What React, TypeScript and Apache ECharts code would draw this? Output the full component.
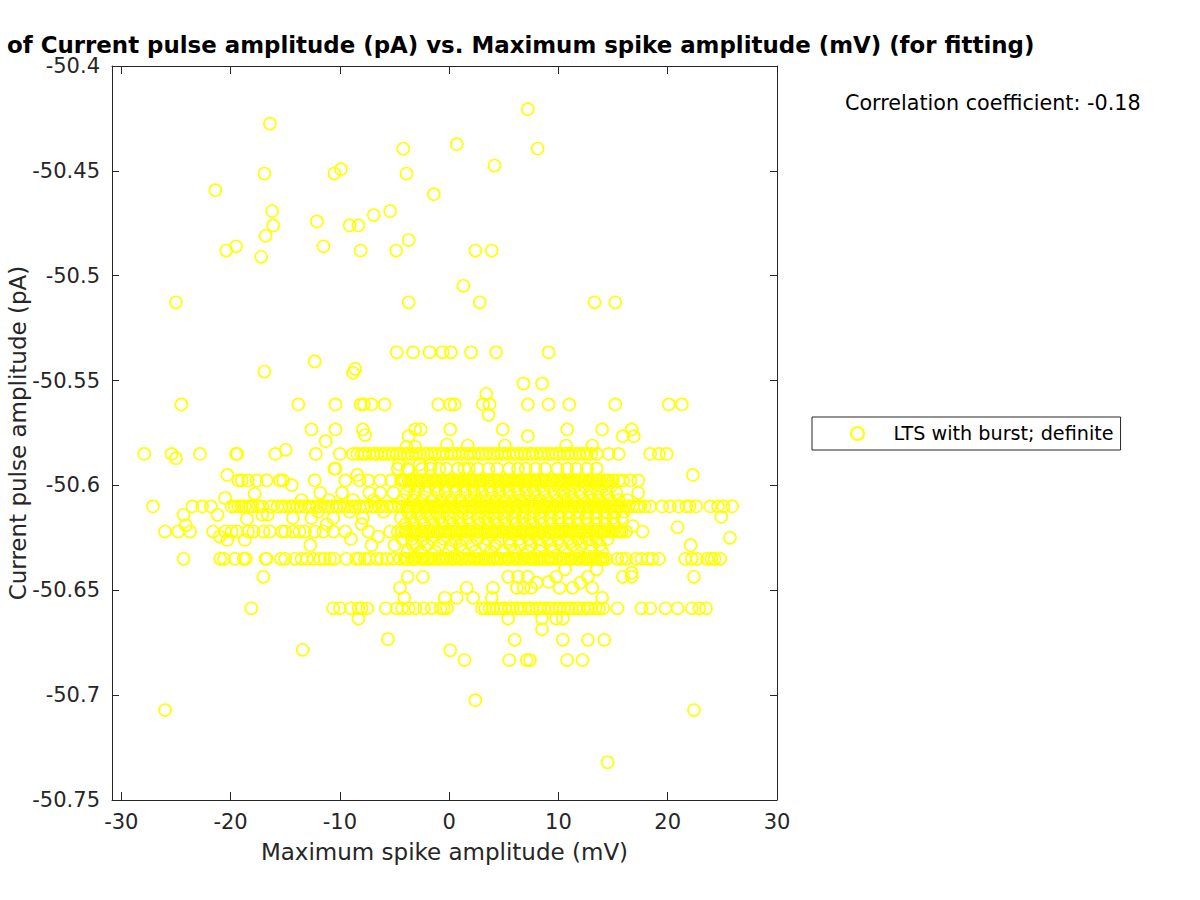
import React, { useEffect, useRef } from "react";
import * as echarts from "echarts";

// ---- Data ----
const seriesName = "LTS with burst; definite";
const titleText = "of Current pulse amplitude (pA) vs. Maximum spike amplitude (mV) (for fitting)";
const corrText = "Correlation coefficient: -0.18";
const xTicks = [-30, -20, -10, 0, 10, 20, 30];
const yTicks = [-50.75, -50.7, -50.65, -50.6, -50.55, -50.5, -50.45, -50.4];

// Row levels (pA) and the x values (mV) of points lying on them
const rowAY = -50.585;
const rowAX = [-27.9, -25.4, -22.8, -19.5, -19.4, -15.9, -12.2, -10.0, -8.8,
  -8.4, -8.0, -7.7, -7.3, -6.9, -6.6, -6.2, -5.9, -5.5, -5.2, -4.8, -4.5, -4.1, -3.8, -3.4, -3.0, -2.7, -2.3, -2.0, -1.6, -1.3, -0.9, -0.6, -0.2,
  0.2, 0.5, 0.9, 1.2, 1.6, 1.9, 2.3, 2.7, 3.0, 3.4, 3.7, 4.1, 4.4, 4.8, 5.1, 5.5, 5.9, 6.2, 6.6, 6.9, 7.3, 7.6, 8.0, 8.4, 8.7, 9.1, 9.4, 9.8,
  10.1, 10.5, 10.9, 11.2, 11.6, 11.9, 12.3, 12.6, 13.0, 13.5, 14.6, 15.5, 18.4, 19.2, 19.9];

const rowBY = -50.5976;
const rowBX = [-19.3, -18.97, -18.4, -17.6, -16.7, -15.5, -15.2, -12.3, -9.5, -8.2, -7.4, -6.3, -5.3,
  -4.4, -4.0, -3.7, -3.3, -3.0, -2.6, -2.2, -1.9, -1.5, -1.2, -0.8, -0.5, -0.1, 0.3, 0.6, 1.0, 1.3, 1.7, 2.0, 2.4, 2.8, 3.1, 3.5, 3.8,
  4.2, 4.5, 4.9, 5.3, 5.6, 6.0, 6.3, 6.7, 7.0, 7.4, 7.8, 8.1, 8.5, 8.8, 9.2, 9.5, 9.9, 10.3, 10.6, 11.0, 11.3, 11.7, 12.0, 12.4, 12.8,
  13.1, 13.5, 13.8, 14.2, 14.6, 15.0, 15.5, 15.9, 16.6, 17.3];
const rowBXCore = [-4.2, -3.5, -2.8, -2.0, -1.3, -0.6, 0.1, 0.8, 1.5, 2.2, 2.9, 3.6, 4.4, 5.1, 5.8, 6.5, 7.2, 7.9, 8.6, 9.4,
  10.1, 10.8, 11.5, 12.2, 12.9, 13.6, 14.4];

const rowCY = -50.61;
const rowCX = [-27.1, -23.5, -22.6, -21.8, -19.9, -19.6, -19.3, -19.0, -18.7, -18.3, -18.0, -17.5, -17.1, -16.3, -15.7, -15.3,
  -15.0, -14.6, -14.3, -13.9, -13.6, -13.2, -12.8, -12.5, -12.1, -11.8, -11.4, -11.1, -10.7, -10.3, -10.0, -9.6, -9.3, -8.9, -8.6,
  -8.2, -7.8, -7.5, -7.1, -6.8, -6.4, -6.1, -5.7, -5.3, -5.0, -4.6, -4.3, -3.9, -3.6, -3.2, -2.8, -2.5, -2.1, -1.8, -1.4, -1.1, -0.7,
  -0.3, 0.0, 0.4, 0.7, 1.1, 1.4, 1.8, 2.2, 2.5, 2.9, 3.2, 3.6, 3.9, 4.3, 4.7, 5.0, 5.4, 5.7, 6.1, 6.4, 6.8, 7.2, 7.5, 7.9, 8.2, 8.6,
  8.9, 9.3, 9.7, 10.0, 10.4, 10.7, 11.1, 11.4, 11.8, 12.2, 12.5, 12.9, 13.2, 13.6, 13.9, 14.3, 14.7, 15.0, 15.4, 15.7, 16.1, 16.4,
  16.8, 17.2, 17.5, 17.9, 18.4, 19.5, 20.2, 21.0, 21.7, 22.0, 22.6, 23.9, 24.6, 25.1, 25.9];
const rowCXCore = [-3.7, -3.0, -2.3, -1.6, -0.9, -0.2, 0.5, 1.2, 2.0, 2.7, 3.4, 4.1, 4.8, 5.5, 6.2, 6.9, 7.7, 8.4, 9.1, 9.8,
  10.5, 11.2, 11.9, 12.7, 13.4, 14.1, 14.8, 15.5];

const rowDY = -50.622;
const rowDX = [-26.0, -24.8, -23.7, -21.6, -20.5, -19.9, -19.4, -18.4, -17.9, -17.0, -16.4, -15.3, -15.0, -14.3, -13.7, -13.2,
  -12.3, -11.5, -10.6, -9.5, -7.4, -5.4,
  -4.7, -4.3, -4.0, -3.6, -3.3, -2.9, -2.5, -2.2, -1.8, -1.5, -1.1, -0.8, -0.4, 0.0, 0.3, 0.7, 1.0, 1.4, 1.7, 2.1, 2.5, 2.8, 3.2,
  3.5, 3.9, 4.2, 4.6, 5.0, 5.3, 5.7, 6.0, 6.4, 6.7, 7.1, 7.5, 7.8, 8.2, 8.5, 8.9, 9.2, 9.6, 10.0, 10.3, 10.7, 11.0, 11.4, 11.7,
  12.1, 12.5, 12.8, 13.2, 13.5, 13.9, 14.2, 14.6, 15.0, 15.4, 15.8, 16.2, 17.7];
const rowDXCore = [-3.9, -3.1, -2.4, -1.7, -1.0, -0.3, 0.5, 1.2, 1.9, 2.6, 3.3, 4.0, 4.8, 5.5, 6.2, 6.9, 7.6, 8.3, 9.1, 9.8,
  10.5, 11.2, 11.9, 12.6, 13.4, 14.1, 14.8, 15.6];

const rowEY = -50.635;
const rowEX = [-24.3, -20.95, -20.6, -19.6, -18.8, -18.6, -16.8, -16.7, -15.4, -15.0, -14.1, -13.5, -13.0, -12.4, -11.8, -11.4,
  -10.9, -10.5, -9.4, -8.5, -8.2, -7.7, -7.3, -6.6, -6.2, -5.7, -5.1,
  -4.5, -4.1, -3.8, -3.4, -3.1, -2.7, -2.3, -2.0, -1.6, -1.3, -0.9, -0.6, -0.2, 0.2, 0.5, 0.9, 1.2, 1.6, 1.9, 2.3, 2.7, 3.0, 3.4,
  3.7, 4.1, 4.4, 4.8, 5.2, 5.5, 5.9, 6.2, 6.6, 6.9, 7.3, 7.7, 8.0, 8.4, 8.7, 9.1, 9.4, 9.8, 10.2, 10.5, 10.9, 11.2, 11.6, 11.9,
  12.3, 12.7, 13.0, 13.4, 13.7, 14.1, 14.4, 15.4, 15.8, 16.2, 17.1, 17.6, 18.2, 18.6, 19.2, 21.6, 22.2, 22.7, 23.6, 24.0, 24.3, 24.8];
const rowEXCore = [-3.9, -3.2, -2.5, -1.8, -1.0, -0.3, 0.4, 1.1, 1.8, 2.5, 3.2, 4.0, 4.7, 5.4, 6.1, 6.8, 7.5, 8.2, 9.0, 9.7,
  10.4, 11.1, 11.8, 12.5, 13.2, 13.9];

const rowFY = -50.6586;
const rowFX = [-18.1, -10.6, -10.0, -9.0, -8.3, -8.0, -7.5, -5.8, -4.8, -4.3, -3.7, -3.1, -2.3, -1.6, -0.8, -0.5, -0.2, 3.0,
  3.3, 3.7, 4.0, 4.4, 4.7, 5.1, 5.5, 5.8, 6.2, 6.5, 6.9, 7.3, 7.6, 8.0, 8.3, 8.7, 9.1, 9.4, 9.8, 10.1, 10.5, 10.9, 11.2, 11.6,
  11.9, 12.3, 12.7, 13.0, 13.4, 13.7, 14.1, 15.4, 17.6, 18.4, 19.8, 20.9, 22.2, 22.9, 23.5];

// In-between bands of the dense core
const band1Y = -50.592;
const band1X = [-10.5, -4.7, -3.8, -2.5, -1.7, -0.9, -0.25, 0.8, 1.4, 1.8, 2.6, 3.6, 4.4, 5.5, 6.3, 7.0, 7.9, 8.8, 9.9, 10.8,
  11.65, 12.6, 13.5];
const band2Y = -50.6035;
const band2X = [-11.8, -9.8, -7.3, -6.3, -5.1, -3.9, -3.1, -2.2, -1.0, -0.3, 0.6, 1.5, 2.3, 3.0, 3.9, 4.6, 5.5, 6.3, 7.1, 7.8,
  8.7, 9.6, 10.4, 11.1, 12.0, 12.9, 13.6, 14.4, 15.3, 17.3];
const band3Y = -50.6155;
const band3X = [-14.3, -12.6, -10.6, -7.9, -4.4, -3.5, -2.6, -1.7, -0.9, 0.0, 0.8, 1.7, 2.6, 3.3, 4.1, 5.0, 5.8, 6.7, 7.4, 8.3,
  9.2, 10.0, 10.9, 11.7, 12.5, 13.4, 14.2, 15.0, 15.8];
const band4Y = -50.6285;
const band4X = [-12.7, -7.1, -5.0, -3.3, -3.0, -2.0, -0.9, 0.2, 1.0, 2.1, 3.3, 4.2, 5.6, 6.5, 7.5, 8.4, 9.3, 10.2, 11.3, 12.1,
  13.0, 13.8, 22.1];
const band5Y = -50.6536;
const band5X = [-4.1, -0.4, 0.7, 2.2, 3.9, 14.0];
const band6Y = -50.6488;
const band6X = [-4.5, 1.6, 4.0, 6.2, 6.8, 7.5, 10.1, 11.3, 13.1];
const band7Y = -50.6436;
const band7X = [-17.0, -3.8, -2.4, 5.4, 6.3, 7.2, 9.8, 12.7, 15.9, 16.7, 22.4];
const band8Y = -50.5614;
const band8X = [-24.5, -13.8, -10.4, -8.1, -7.8, -7.1, -5.9, -1.0, 0.1, 0.5, 3.1, 3.7, 7.2, 9.1, 11.0, 15.2, 20.1, 21.3];
const band9Y = -50.5365;
const band9X = [-4.8, -3.3, -1.8, -0.6, 0.15, 2.0, 4.3, 9.1];
const band10Y = -50.5733;
const band10X = [-12.6, -10.4, -7.9, -3.1, -2.6, 0.1, 4.9, 10.8, 14.0, 16.7];
const band11Y = -50.6005;
const band11X = [-3.6, -2.8, -1.9, -1.2, -0.4, 0.5, 1.3, 2.1, 2.8, 3.7, 4.5, 5.2, 6.0, 6.9, 7.6, 8.4, 9.2, 10.0, 10.8, 11.5,
  12.4, 13.2, 14.0, 14.8];
const band12Y = -50.607;
const band12X = [-13.5, -11.0, -8.8, -6.9, -4.2, -3.3, -2.5, -1.5, -0.7, 0.2, 1.0, 1.9, 2.7, 3.4, 4.3, 5.1, 5.9, 6.6, 7.5, 8.3,
  9.0, 9.9, 10.7, 11.4, 12.3, 13.1, 13.8, 14.7, 15.5, 16.3];
const band13Y = -50.6125;
const band13X = [-12.0, -9.1, -6.0, -3.8, -3.0, -2.1, -1.2, -0.5, 0.4, 1.2, 2.0, 2.9, 3.7, 4.5, 5.3, 6.1, 6.9, 7.8, 8.6, 9.4,
  10.2, 11.0, 11.9, 12.7, 13.5, 14.4, 15.2, 16.0];
const band14Y = -50.6185;
const band14X = [-11.2, -8.0, -4.0, -3.2, -2.3, -1.4, -0.6, 0.3, 1.1, 1.9, 2.8, 3.6, 4.4, 5.2, 6.1, 6.9, 7.7, 8.5, 9.4, 10.2,
  11.0, 11.8, 12.7, 13.5, 14.3, 15.1];
const band15Y = -50.6255;
const band15X = [-9.0, -4.3, -3.4, -2.4, -1.6, -0.5, 0.6, 1.5, 2.6, 3.5, 4.7, 5.5, 6.4, 7.3, 8.1, 9.0, 10.0, 10.9, 11.8, 12.6,
  13.5, 14.5];
const band16Y = -50.6315;
const band16X = [-3.8, -2.6, -1.3, 0.0, 1.3, 2.4, 3.8, 4.9, 6.0, 7.2, 8.3, 9.5, 10.6, 11.7, 12.9, 14.0];

// Scattered individual points [mV, pA]
const loosePoints: [number, number][] = [
  [7.2, -50.4206], [-16.4, -50.4275], [8.1, -50.4394], [-4.2, -50.4394], [0.7, -50.4373], [4.15, -50.4475],
  [-16.9, -50.4513], [-10.5, -50.4513], [-9.9, -50.4492], [-3.9, -50.4513], [-21.4, -50.4592], [-1.4, -50.4611],
  [-16.2, -50.4692], [-5.4, -50.4692], [-6.9, -50.4711], [-12.1, -50.4741], [-16.1, -50.476], [-9.1, -50.476],
  [-8.3, -50.476], [-16.8, -50.481], [-3.7, -50.483], [-20.4, -50.488], [-19.5, -50.486], [-11.5, -50.486],
  [-8.1, -50.488], [-4.85, -50.488], [2.4, -50.488], [3.9, -50.488], [-17.2, -50.491], [1.3, -50.5048],
  [-25.0, -50.5127], [-3.7, -50.5127], [2.8, -50.5127], [13.3, -50.5127], [15.2, -50.5127],
  [-12.3, -50.5409], [-8.6, -50.5444], [-8.8, -50.5463], [-16.9, -50.5457], [6.8, -50.5514], [8.5, -50.5514],
  [3.4, -50.5563], [3.6, -50.5663], [-7.7, -50.576], [-3.7, -50.5765], [7.2, -50.5765], [15.9, -50.5765],
  [16.9, -50.5765], [-11.3, -50.5789], [1.7, -50.581], [5.1, -50.581], [10.7, -50.581], [13.1, -50.581],
  [-3.9, -50.5816], [-3.1, -50.5816], [-0.2, -50.5805], [-14.95, -50.583], [-25.0, -50.587],
  [-4.6, -50.59], [-2.7, -50.59], [-1.7, -50.59], [-3.7, -50.5927],
  [-20.3, -50.595], [-8.4, -50.595], [22.3, -50.595], [-10.4, -50.592], [-14.4, -50.5999],
  [-17.8, -50.604], [-20.5, -50.606], [-24.3, -50.614], [-21.2, -50.614], [-17.1, -50.614], [-16.6, -50.614],
  [-18.5, -50.616], [24.9, -50.615], [-24.1, -50.619], [20.9, -50.62], [16.8, -50.6194],
  [-21.0, -50.6244], [-20.3, -50.626], [-18.7, -50.626], [-6.5, -50.6244], [25.7, -50.625],
  [10.6, -50.64], [13.5, -50.64], [16.7, -50.6416], [8.0, -50.6464], [9.1, -50.646], [12.0, -50.6464],
  [-8.3, -50.6635], [5.4, -50.6635], [8.5, -50.6635], [9.8, -50.6635], [10.4, -50.6635], [8.5, -50.6686],
  [-5.6, -50.6733], [6.0, -50.6736], [10.4, -50.6736], [12.7, -50.6736], [14.2, -50.6736], [-13.4, -50.6784],
  [0.1, -50.6786], [1.4, -50.6833], [5.5, -50.6833], [7.1, -50.6833], [7.4, -50.6833], [10.8, -50.6833],
  [12.2, -50.6833], [2.4, -50.7024], [-26.0, -50.7071], [22.4, -50.7071], [14.5, -50.732],
];

const rows: [number, number[]][] = [
  [rowAY, rowAX], [rowBY, rowBX], [rowBY, rowBXCore], [rowCY, rowCX], [rowCY, rowCXCore],
  [rowDY, rowDX], [rowDY, rowDXCore], [rowEY, rowEX], [rowEY, rowEXCore], [rowFY, rowFX],
  [band1Y, band1X], [band2Y, band2X], [band3Y, band3X], [band4Y, band4X], [band5Y, band5X],
  [band6Y, band6X], [band7Y, band7X], [band8Y, band8X], [band9Y, band9X], [band10Y, band10X],
  [band11Y, band11X], [band12Y, band12X], [band13Y, band13X], [band14Y, band14X], [band15Y, band15X],
  [band16Y, band16X],
];

const FONT = "DejaVu Sans";
const AXIS_COLOR = "#262626";

export default function App() {
  const ref = useRef<HTMLDivElement>(null);
  useEffect(() => {
    if (!ref.current) return;
    const chart = echarts.init(ref.current, undefined, { renderer: "svg" });
    const data: [number, number][] = [];
    rows.forEach(([y, xs]) => xs.forEach((x) => data.push([x, y])));
    loosePoints.forEach((p) => data.push(p));

    const fmtY = (v: number) => String(parseFloat(v.toFixed(2)));
    const common = {
      type: "value" as const,
      splitLine: { show: false },
      axisLine: { show: true, onZero: false, lineStyle: { color: AXIS_COLOR, width: 1 } },
    };

    chart.setOption({
      animation: false,
      backgroundColor: "#ffffff",
      title: {
        text: titleText,
        left: 2,
        top: 28,
        textStyle: { fontFamily: FONT, fontWeight: "bold", fontSize: 22.9, lineHeight: 24, color: "#000" },
      },
      grid: { left: 112, top: 66, width: 665, height: 734, containLabel: false, outerBoundsMode: "none" },
      legend: {
        data: [seriesName],
        left: 812,
        top: 417,
        padding: [7, 7, 7, 38],
        itemWidth: 62,
        itemHeight: 13,
        borderColor: AXIS_COLOR,
        borderWidth: 1,
        borderRadius: 0,
        textStyle: { fontFamily: FONT, fontSize: 19.2, color: "#000" },
      },
      xAxis: [
        {
          ...common,
          min: -30.85,
          max: 30,
          position: "bottom",
          name: "Maximum spike amplitude (mV)",
          nameLocation: "middle",
          nameGap: 40,
          nameMoveOverlap: false,
          nameTextStyle: { fontFamily: FONT, fontSize: 23, color: AXIS_COLOR },
          axisTick: { show: true, inside: true, length: 8, customValues: xTicks, lineStyle: { color: AXIS_COLOR } },
          axisLabel: { customValues: xTicks, fontFamily: FONT, fontSize: 21, color: AXIS_COLOR, margin: 11 },
        },
        {
          ...common,
          min: -30.85,
          max: 30,
          position: "top",
          axisTick: { show: true, inside: true, length: 8, customValues: xTicks, lineStyle: { color: AXIS_COLOR } },
          axisLabel: { show: false },
        },
      ],
      yAxis: [
        {
          ...common,
          min: -50.75,
          max: -50.4,
          position: "left",
          name: "Current pulse amplitude (pA)",
          nameLocation: "middle",
          nameGap: 83,
          nameRotate: 90,
          nameMoveOverlap: false,
          nameTextStyle: { fontFamily: FONT, fontSize: 23, color: AXIS_COLOR },
          axisTick: { show: true, inside: true, length: 7, customValues: yTicks, lineStyle: { color: AXIS_COLOR } },
          axisLabel: {
            customValues: yTicks, formatter: fmtY, fontFamily: FONT, fontSize: 21, lineHeight: 16,
            color: AXIS_COLOR, margin: 12,
          },
        },
        {
          ...common,
          min: -50.75,
          max: -50.4,
          position: "right",
          axisTick: { show: true, inside: true, length: 7, customValues: yTicks, lineStyle: { color: AXIS_COLOR } },
          axisLabel: { show: false },
        },
      ],
      graphic: [
        {
          type: "text",
          left: 845,
          top: 92,
          style: { text: corrText, fontFamily: FONT, fontSize: 20.7, fill: "#000" },
        },
      ],
      series: [
        {
          name: seriesName,
          type: "scatter",
          xAxisIndex: 0,
          yAxisIndex: 0,
          symbol: "circle",
          symbolSize: 12,
          itemStyle: { color: "rgba(255,255,255,0)", borderColor: "#ffff00", borderWidth: 1.6, opacity: 1 },
          emphasis: { disabled: true },
          data,
        },
      ],
    });
    return () => chart.dispose();
  }, []);
  return (
    <div
      ref={ref}
      style={{ position: "fixed", left: 0, top: 0, width: 1200, height: 900, background: "#fff" }}
    />
  );
}
